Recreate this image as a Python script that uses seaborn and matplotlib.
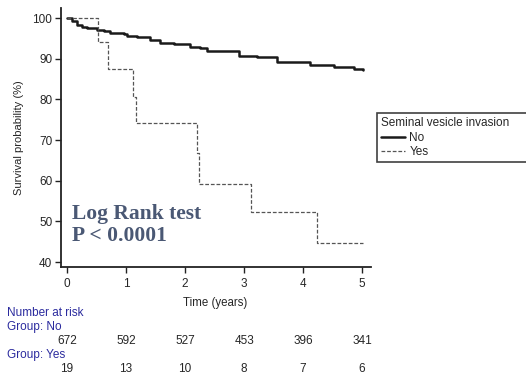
import matplotlib
matplotlib.use("Agg")
import matplotlib.pyplot as plt
import matplotlib.transforms as mtransforms
import seaborn as sns
import pandas as pd

# ---- data ----
no_time = [0, 0.08, 0.17, 0.25, 0.34, 0.51, 0.62, 0.73, 0.96, 1.02, 1.19, 1.41, 1.58,
           1.81, 2.09, 2.26, 2.37, 2.77, 2.91, 3.22, 3.56, 3.95, 4.12, 4.41, 4.52, 4.86, 5.01]
no_surv = [100, 99.2, 98.3, 97.8, 97.5, 97.1, 96.8, 96.3, 96.0, 95.6, 95.3, 94.6, 94.0,
           93.6, 93.0, 92.6, 92.0, 92.0, 90.7, 90.4, 89.3, 89.2, 88.5, 88.4, 87.9, 87.6, 87.3]
yes_time = [0, 0.52, 0.70, 1.12, 1.17, 2.20, 2.24, 3.11, 4.23, 5.01]
yes_surv = [100, 94.1, 87.5, 80.7, 74.1, 66.8, 59.3, 52.4, 44.6, 44.6]

risk_times = [0, 1, 2, 3, 4, 5]
risk_no = [672, 592, 527, 453, 396, 341]
risk_yes = [19, 13, 10, 8, 7, 6]

df = pd.concat([
    pd.DataFrame({"time": no_time, "surv": no_surv, "group": "No"}),
    pd.DataFrame({"time": yes_time, "surv": yes_surv, "group": "Yes"}),
])

sns.set_style("ticks")
plt.rcParams["font.family"] = ["Liberation Sans", "DejaVu Sans"]

W, H = 526, 383
fig = plt.figure(figsize=(W / 100, H / 100), dpi=100)
ax = fig.add_axes([60.7 / W, (H - 267) / H, (371 - 60.7) / W, (267 - 8) / H])

sns.lineplot(data=df[df.group == "No"], x="time", y="surv", ax=ax, color="#1a1a1a",
             lw=1.8, drawstyle="steps-post", label="No", estimator=None)
sns.lineplot(data=df[df.group == "Yes"], x="time", y="surv", ax=ax, color="#555555",
             lw=0.9, linestyle=(0, (3, 1.5)), drawstyle="steps-post", label="Yes", estimator=None)

ax.set_xlim(-0.107, 5.15)
ax.set_ylim(38.8, 102.5)
ax.set_xticks(risk_times)
ax.set_yticks([40, 50, 60, 70, 80, 90, 100])
ax.tick_params(axis="both", labelsize=8.5, length=4, width=1, color="#222222", pad=2)
ax.tick_params(axis="x", pad=4)
for s in ["top", "right"]:
    ax.spines[s].set_visible(False)
for s in ["left", "bottom"]:
    ax.spines[s].set_linewidth(1.3)
    ax.spines[s].set_color("#222222")
ax.set_xlabel("")
ax.set_ylabel("Survival probability (%)", fontsize=8)
ax.yaxis.set_label_coords(-0.118, 0.5)

fig.text(215 / W, 1 - 303 / H, "Time (years)", fontsize=8.3, ha="center", va="center")

ax.text(0.08, 49.2, "Log Rank test\nP < 0.0001", fontsize=15.5, fontweight="bold",
        family=["Liberation Serif", "DejaVu Serif"], color="#4a5874", ha="left", va="center",
        linespacing=1.15)

leg = ax.legend(title="Seminal vesicle invasion", loc="upper left",
                bbox_to_anchor=(377 / W, 1 - 117 / H, 260 / W, 0.01),
                bbox_transform=fig.transFigure, mode="expand",
                fontsize=8.5, title_fontsize=8.5, frameon=True, fancybox=False,
                handlelength=2.0, handletextpad=0.4, borderpad=0.35, labelspacing=0.2,
                borderaxespad=0)
leg._legend_box.align = "left"
leg.get_frame().set_edgecolor("#111111")
leg.get_frame().set_linewidth(1.2)

blue = "#2b2b9e"
fs = 8.5
fig.text(7 / W, 1 - 313 / H, "Number at risk", fontsize=fs, color=blue, va="center")
fig.text(7 / W, 1 - 327 / H, "Group: No", fontsize=fs, color=blue, va="center")
fig.text(7 / W, 1 - 355 / H, "Group: Yes", fontsize=fs, color=blue, va="center")
trans = mtransforms.blended_transform_factory(ax.transData, fig.transFigure)
for t, n in zip(risk_times, risk_no):
    fig.text(t, 1 - 341 / H, str(n), transform=trans, fontsize=fs, ha="center", va="center")
for t, n in zip(risk_times, risk_yes):
    fig.text(t, 1 - 369 / H, str(n), transform=trans, fontsize=fs, ha="center", va="center")

fig.savefig("out.png", dpi=100)
